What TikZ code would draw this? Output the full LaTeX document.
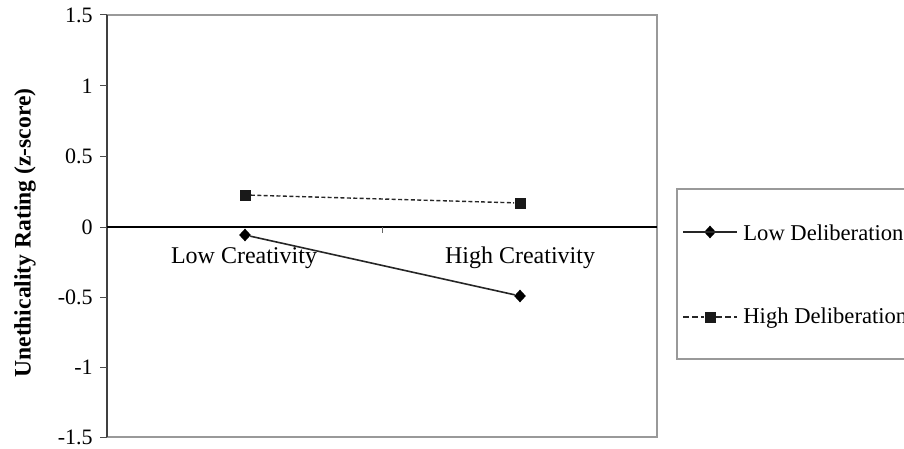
\documentclass[tikz,border=0pt]{standalone}
\usepackage{fontspec}
\setmainfont{Liberation Serif}
\usetikzlibrary{shapes.geometric}
\tikzset{
  frame/.style={draw=black!40, line width=0.8pt},
  tick/.style={line width=0.5pt, black!70},
  ticklabel/.style={anchor=east, inner sep=0pt, font=\fontsize{11}{13}\selectfont},
  catlabel/.style={inner sep=0pt, font=\fontsize{12}{14}\selectfont},
  legtext/.style={anchor=west, inner sep=0pt, font=\fontsize{11.3}{13}\selectfont},
  dmark/.style={diamond, fill=black, draw=none, inner sep=0pt, minimum width=6pt, minimum height=6.5pt},
  smark/.style={rectangle, fill=black!90, draw=none, inner sep=0pt, minimum size=5.5pt},
  solidser/.style={line width=0.8pt, black!85},
  dashser/.style={line width=0.7pt, black!85, dash pattern=on 2pt off 1.2pt},
  legdash/.style={line width=0.7pt, black!85, dash pattern=on 3pt off 1.6pt},
}
\begin{document}
\begin{tikzpicture}[x=0.5pt,y=-0.5pt]
\useasboundingbox (0,0) rectangle (904,449);
% plot frame
\draw[frame] (107,15) -- (657,15) -- (657,437) -- (107,437);
\draw[line width=0.7pt, black!75] (107,15) -- (107,437);
% y ticks and labels
\foreach \y/\t in {15/1.5, 86/1, 156/0.5, 227/0, 297/-0.5, 367/-1, 437/-1.5} {
  \draw[tick] (100,\y) -- (107,\y);
  \node[ticklabel] at (93,\y) {\t};
}
% zero line and category tick
\draw[line width=0.6pt, black] (107,227) -- (657,227);
\draw[line width=0.4pt, black!60] (382,227) -- (382,233);
% y axis title
\node[rotate=90, inner sep=0pt, font=\fontsize{11.8}{14}\selectfont\bfseries] (ytitle) at (25,233) {Unethicality Rating (z-score)};
% category labels
\node[catlabel] (lowc) at (244,258) {Low Creativity};
\node[catlabel] (highc) at (520,258) {High Creativity};
% data: high deliberation (dashed, squares)
\node[smark] (h1) at (245,195) {};
\node[smark] (h2) at (520,203) {};
\draw[dashser] (h1) -- (h2);
% data: low deliberation (solid, diamonds)
\node[dmark] (l1) at (245,235) {};
\node[dmark] (l2) at (520,296) {};
\draw[solidser] (l1) -- (l2);
% legend
\draw[frame, line width=0.6pt] (1000,189) -- (677,189) -- (677,359) -- (1000,359);
\coordinate (a1) at (683,232);
\coordinate (b1) at (737,232);
\node[dmark] (m1) at (710,232) {};
\draw[solidser] (a1) -- (b1);
\node[legtext] (t1) at (743,233) {Low Deliberation};
\coordinate (a2) at (683,317);
\coordinate (b2) at (737,317);
\node[smark] (m2) at (710,317) {};
\draw[legdash] (a2) -- (m2);
\draw[legdash] (m2) -- (b2);
\node[legtext] (t2) at (743,318) {High Deliberation};
\end{tikzpicture}
\end{document}
